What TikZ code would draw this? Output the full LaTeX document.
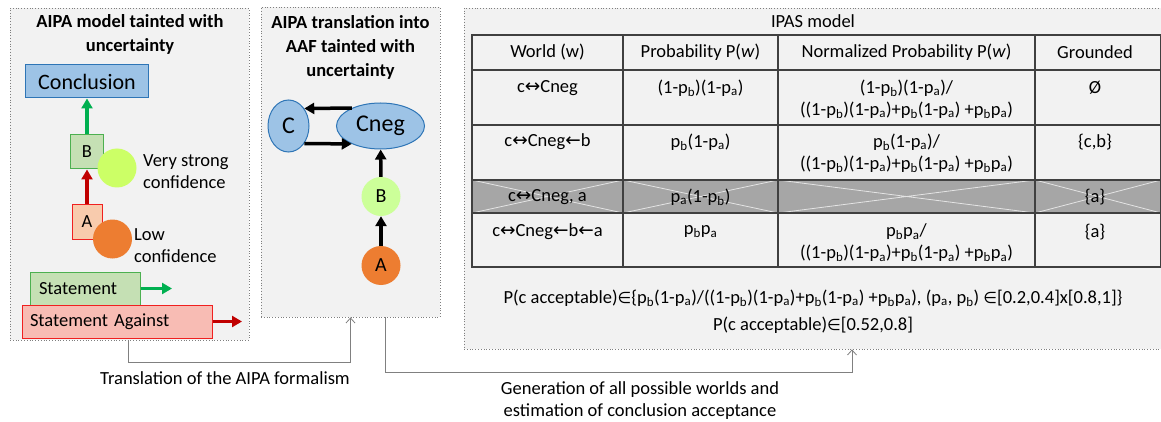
\documentclass[tikz,border=0pt]{standalone}
\usepackage{fontspec}
\setmainfont{Carlito}
\newfontfamily\symfont[Scale=0.85]{DejaVu Sans}
\newfontfamily\arrfont[Scale=1.0]{DejaVu Sans}
\usetikzlibrary{positioning,shapes.geometric,arrows.meta}

\definecolor{panelbg}{HTML}{F2F2F2}
\definecolor{panelline}{HTML}{7F7F7F}
\definecolor{concfill}{HTML}{9DC3E6}
\definecolor{concline}{HTML}{2E75B6}
\definecolor{bfill}{HTML}{C5E0B4}
\definecolor{bline}{HTML}{4CB050}
\definecolor{afill}{HTML}{F8CBAD}
\definecolor{aline}{HTML}{F02020}
\definecolor{agfill}{HTML}{F8BCB4}
\definecolor{strongconf}{HTML}{CCFF66}
\definecolor{lowconf}{HTML}{ED7D31}
\definecolor{bnodefill}{HTML}{CCFF99}
\definecolor{greenarr}{HTML}{00B050}
\definecolor{redarr}{HTML}{C00000}
\definecolor{rowgray}{HTML}{A6A6A6}
\definecolor{crossline}{HTML}{E4E4E4}
\definecolor{gridline}{HTML}{404040}
\definecolor{flowline}{HTML}{808080}

\newcommand{\pA}{p\textsubscript{a}}
\newcommand{\pB}{p\textsubscript{b}}
\newcommand{\lrarr}{{\arrfont ↔}}
\newcommand{\larr}{{\arrfont ←}}
\newcommand{\inset}{{\symfont ∈}}

\begin{document}
\begin{tikzpicture}[%
		x=1pt, y=-1pt,
		font=\fontsize{18.5}{22}\selectfont,
		>={Triangle[length=10pt,width=11pt]},
		panel/.style={%
			draw=panelline,
			dotted,
			fill=panelbg,
			line width=0.8pt,
			inner sep=0pt
		},
		ttl/.style={font=\fontsize{18.5}{24}\selectfont\bfseries, align=center},
		argbox/.style={draw, line width=1pt, inner sep=0pt},
		conf/.style={circle, minimum size=39pt, inner sep=0pt},
		aaf/.style={ellipse, draw=concline, fill=concfill, line width=1pt, inner sep=0pt,
			font=\fontsize{24}{28}\selectfont},
		support/.style={->, line width=3.2pt},
		attack/.style={->, line width=3.5pt},
		cell/.style={align=center, inner sep=0pt},
		grid/.style={draw=gridline, line width=1.6pt},
		flow/.style={draw=flowline, line width=0.8pt, -{Straight Barb[length=5pt,width=9pt]}}
		]
		\useasboundingbox (0,0) rectangle (1161,422);
		
		% panels
		\node[panel, minimum width=239pt, minimum height=332pt] (p1) at (129.5,174) {};
		\node[panel, minimum width=179pt, minimum height=310pt] (p2) at (350.5,162) {};
		\node[panel, minimum width=706pt, minimum height=341pt] (p3) at (817,178.5) {};
		
		% AIPA model
		\node[ttl] (t1) at (130,34) {AIPA model tainted with\\uncertainty};
		\node[argbox, draw=concline, fill=concfill, minimum width=123pt, minimum height=33pt,
			font=\fontsize{22}{26}\selectfont] (concl) at (87,81.5) {Conclusion};
		\node[argbox, draw=bline, fill=bfill, minimum width=33pt, minimum height=34pt] (b) at (87,152) {B};
		\node[conf, fill=strongconf] (bconf) at (117,168) {};
		\node[anchor=west, align=left, inner sep=0pt] (bconftxt) at (143,172) {Very strong\\confidence};
		\node[argbox, draw=aline, fill=afill, minimum width=30pt, minimum height=35pt] (a) at (87,221.5) {A};
		\node[conf, fill=lowconf] (aconf) at (112.5,239) {};
		\node[anchor=west, align=left, inner sep=0pt] (aconftxt) at (134,246) {Low\\confidence};
		\node[argbox, draw=bline, fill=bfill, minimum height=33pt, text width=92pt, inner xsep=9pt,
			align=left] (stmt) at (85,288.5) {Statement};
		\node[argbox, draw=aline, fill=agfill, minimum height=33pt, text width=174pt, inner xsep=8pt,
			align=left] (stmtag) at (117,321.5) {Statement Against};
		\coordinate (stmtend) at (172,288.5);
		\coordinate (stmtagend) at (242,321.5);
		
		\draw[support, draw=greenarr] (b) -- (concl);
		\draw[support, draw=redarr] (a) -- (b);
		\draw[support, draw=greenarr] (stmt) -- (stmtend);
		\draw[support, draw=redarr] (stmtag) -- (stmtagend);
		
		% AAF translation
		\node[ttl] (t2) at (350.5,47) {AIPA translation into\\AAF tainted with\\uncertainty};
		\node[aaf, minimum width=41pt, minimum height=52pt] (c) at (288.5,126) {C};
		\node[aaf, minimum width=88pt, minimum height=46pt] (cneg) at (380.5,126) {Cneg};
		\node[conf, fill=bnodefill, font=\fontsize{20}{24}\selectfont] (bb) at (381,196.5) {B};
		\node[conf, fill=lowconf, font=\fontsize{20}{24}\selectfont] (aa) at (381,265.5) {A};
		
		\draw[attack] (cneg.148) -- (c.48);
		\draw[attack] (c.-48) -- (cneg.-148);
		\draw[attack] (bb) -- (cneg);
		\draw[attack] (aa) -- (bb);
		
		% IPAS model
		\node (t3) at (813,21) {IPAS model};
		\fill[rowgray] (472,180) rectangle (1161,213);
		\foreach \xa/\xb in {472/623,623/778,778/1035,1035/1161}
			\draw[crossline, line width=0.8pt] (\xa,180) -- (\xb,213) (\xa,213) -- (\xb,180);
		\draw[grid] (472,35) rectangle (1161,267);
		\foreach \yy in {70,125,180,213}
			\draw[grid] (472,\yy) -- (1161,\yy);
		\foreach \xx in {623,778,1035}
			\draw[grid] (\xx,35) -- (\xx,267);
		
		\node[cell] (hw) at (547.5,52) {World (w)};
		\node[cell] (hp) at (700.5,52) {Probability P(\emph{w})};
		\node[cell] (hn) at (906.5,52) {Normalized Probability P(\emph{w})};
		\node[cell] (hg) at (1095,52) {Grounded};
		
		\node[cell] (w1) at (547.5,88) {c\lrarr Cneg};
		\node[cell] (pr1) at (700.5,88) {(1-\pB)(1-\pA)};
		\node[cell] (n1) at (906.5,99) {(1-\pB)(1-\pA)/\\((1-\pB)(1-\pA)+\pB(1-\pA) +\pB\pA)};
		\node[cell] (g1) at (1095,88) {Ø};
		
		\node[cell] (w2) at (547.5,142) {c\lrarr Cneg\larr b};
		\node[cell] (pr2) at (700.5,142) {\pB(1-\pA)};
		\node[cell] (n2) at (906.5,153) {\pB(1-\pA)/\\((1-\pB)(1-\pA)+\pB(1-\pA) +\pB\pA)};
		\node[cell] (g2) at (1095,142) {\{c,b\}};
		
		\node[cell] (w3) at (547.5,197) {c\lrarr Cneg, a};
		\node[cell] (pr3) at (700.5,197) {\pA(1-\pB)};
		\node[cell] (g3) at (1095,197) {\{a\}};
		
		\node[cell] (w4) at (547.5,232) {c\lrarr Cneg\larr b\larr a};
		\node[cell] (pr4) at (700.5,232) {\pB\pA};
		\node[cell] (n4) at (906.5,243) {\pB\pA/\\((1-\pB)(1-\pA)+\pB(1-\pA) +\pB\pA)};
		\node[cell] (g4) at (1095,232) {\{a\}};
		
		\node (accset) at (813,298) {P(c acceptable)\inset\{\pB(1-\pA)/((1-\pB)(1-\pA)+\pB(1-\pA) +\pB\pA), (\pA, \pB) \inset[0.2,0.4]x[0.8,1]\}};
		\node (accint) at (813,325) {P(c acceptable)\inset[0.52,0.8]};
		
		% transformations
		\draw[flow] ([xshift=-1.5pt]p1.south) -- ++(0,22) -| (p2.south);
		\draw[flow] ([xshift=34.5pt]p2.south) -- ++(0,55) -| ([xshift=35pt]p3.south);
		\node (lab1) at (225,378) {Translation of the AIPA formalism};
		\node[align=center] (lab2) at (640,401) {Generation of all possible worlds and\\estimation of conclusion acceptance};
\end{tikzpicture}
\end{document}
